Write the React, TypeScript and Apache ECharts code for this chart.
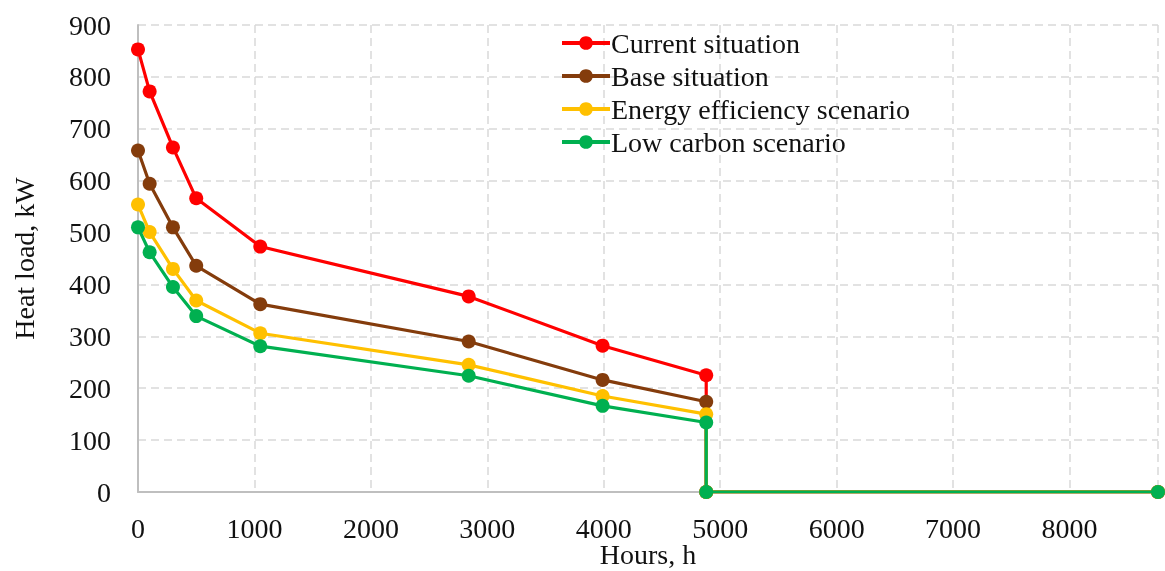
import React, { useEffect, useRef } from "react";
import * as echarts from "echarts";

const hours = [0, 100, 300, 500, 1050, 2840, 3990, 4880, 4880, 8760];
const currentSituation = [853, 772, 664, 566, 473, 377, 282, 225, 0, 0];
const baseSituation = [658, 594, 510, 436, 362, 290, 216, 174, 0, 0];
const energyEfficiency = [554, 501, 430, 369, 306, 245, 185, 150, 0, 0];
const lowCarbon = [510, 462, 395, 339, 281, 224, 166, 134, 0, 0];

const seriesNames = [
  "Current situation",
  "Base situation",
  "Energy efficiency scenario",
  "Low carbon scenario",
];
const seriesColors = ["#FF0000", "#843C0C", "#FFC000", "#00B050"];
const seriesValues = [currentSituation, baseSituation, energyEfficiency, lowCarbon];

const FONT = "'Liberation Serif', 'Times New Roman', serif";
const FS = 28;

export default function App() {
  const ref = useRef<HTMLDivElement>(null);
  useEffect(() => {
    if (!ref.current) return;
    const chart = echarts.init(ref.current, null, { renderer: "svg" });
    chart.setOption({
      animation: false,
      textStyle: { fontFamily: FONT },
      grid: {
        left: 138,
        right: 7,
        top: 25,
        bottom: 79,
        containLabel: false,
        outerBoundsMode: "none",
      },
      legend: {
        left: 560,
        top: 29,
        padding: 0,
        orient: "vertical",
        itemWidth: 48,
        itemHeight: 17,
        itemGap: 5,
        data: seriesNames,
        lineStyle: { width: 4 },
        textStyle: { fontFamily: FONT, fontSize: FS, color: "#111", padding: [0, 0, 0, -4] },
      },
      xAxis: {
        type: "value",
        min: 0,
        max: 8760,
        interval: 1000,
        name: "Hours, h",
        nameLocation: "middle",
        nameGap: 48,
        nameMoveOverlap: false,
        nameTextStyle: { fontFamily: FONT, fontSize: FS, color: "#111" },
        axisLine: { show: true, lineStyle: { color: "#BFBFBF", width: 2 } },
        axisTick: { show: false },
        axisLabel: {
          fontFamily: FONT,
          fontSize: FS,
          color: "#111",
          margin: 22,
          showMaxLabel: false,
          formatter: (v: number) => String(v),
        },
        splitLine: { show: true, lineStyle: { color: "#D9D9D9", width: 1.5, type: [8, 5] } },
      },
      yAxis: {
        type: "value",
        min: 0,
        max: 900,
        interval: 100,
        name: "Heat load, kW",
        nameLocation: "middle",
        nameGap: 100,
        nameMoveOverlap: false,
        nameRotate: 90,
        nameTextStyle: { fontFamily: FONT, fontSize: FS, color: "#111" },
        axisLine: { show: true, lineStyle: { color: "#BFBFBF", width: 2 } },
        axisTick: { show: false },
        axisLabel: { fontFamily: FONT, fontSize: FS, color: "#111", margin: 27 },
        splitLine: { show: true, lineStyle: { color: "#D9D9D9", width: 1.5, type: [8, 5] } },
      },
      series: seriesNames.map((name, i) => ({
        name,
        type: "line",
        data: hours.map((h, j) => [h, seriesValues[i][j]]),
        symbol: "circle",
        symbolSize: 14,
        color: seriesColors[i],
        lineStyle: { width: 3.2, color: seriesColors[i] },
        itemStyle: { color: seriesColors[i] },
        z: 2 + i,
      })),
    });
    return () => chart.dispose();
  }, []);
  return (
    <div
      ref={ref}
      style={{ position: "fixed", left: 0, top: 0, width: 1165, height: 571 }}
    />
  );
}
